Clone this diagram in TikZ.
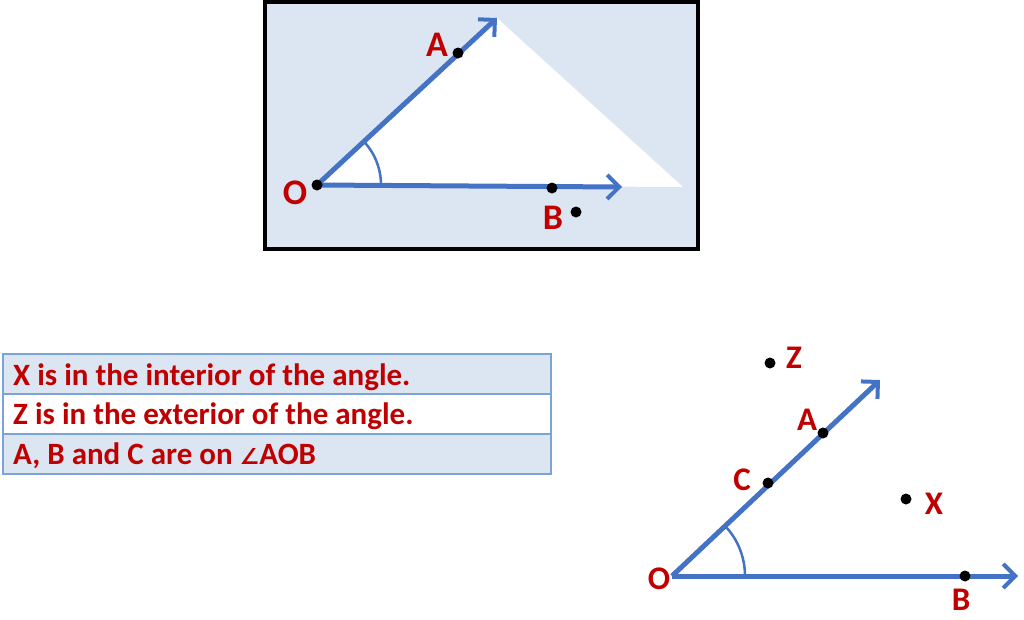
\documentclass[tikz,border=0pt]{standalone}
\usepackage{fontspec}
\setmainfont{Carlito}
\newfontfamily\symfont{DejaVu Sans}
\usetikzlibrary{arrows.meta}
\definecolor{boxblue}{HTML}{DCE6F2}
\definecolor{rayblue}{HTML}{4472C4}
\definecolor{txtred}{HTML}{C00000}
\definecolor{tabline}{HTML}{7BA3D6}
\tikzset{
  ray/.style={draw=rayblue, line width=5pt, -{Straight Barb[length=12pt,width=24pt,line width=4pt]}},
  arcl/.style={draw=rayblue, line width=2.5pt},
  dot/.style={circle, fill=black, inner sep=0pt, minimum size=11pt},
  lbl/.style={text=txtred, font=\bfseries\fontsize{36}{40}\selectfont, inner sep=0pt},
  lbls/.style={text=txtred, font=\bfseries\fontsize{33}{37}\selectfont, inner sep=0pt},
  rowtxt/.style={text=txtred, font=\bfseries\fontsize{31}{35}\selectfont, anchor=west, inner sep=0pt},
  row/.style={draw=tabline, line width=2.5pt}
}
\begin{document}
\begin{tikzpicture}[x=1pt,y=-1pt]
\useasboundingbox (0,0) rectangle (1024,619);
% ---------- top box ----------
\draw[line width=4pt, fill=boxblue] (265,2) rectangle (698,249);
\coordinate (O1) at (317,185);
\coordinate (T1) at (497,18);
\coordinate (R1) at (683,187);
\coordinate (E1) at (622,187);
\fill[white] (O1) -- (T1) -- (R1) -- cycle;
\draw[ray] (O1) -- (T1);
\draw[ray] (O1) -- (E1);
\draw[arcl] (O1) ++(0:64) arc[start angle=0, end angle=-43, radius=64];
\node[dot] (o1) at (O1) {};
\node[dot] (a1) at (458,53) {};
\node[dot] (b1) at (552,188) {};
\node[dot] (p1) at (576,212) {};
\node[lbl] (lo1) at (295,193) {O};
\node[lbl] (la1) at (437,45) {A};
\node[lbl] (lb1) at (553,218) {B};
% ---------- table ----------
\draw[row, fill=boxblue] (3,354) rectangle (551,394);
\draw[row, fill=white] (3,394) rectangle (551,434);
\draw[row, fill=boxblue] (3,434) rectangle (551,474);
\node[rowtxt] (r1) at (13,377) {X is in the interior of the angle.};
\node[rowtxt] (r2) at (13,416) {Z is in the exterior of the angle.};
\node[rowtxt] (r3) at (13,456) {A, B and C are on {\symfont\fontsize{22}{26}\selectfont ∠}AOB};
% ---------- bottom right ----------
\coordinate (O2) at (672,576);
\coordinate (T2) at (880,380);
\coordinate (E2) at (1018,576);
\draw[ray] (O2) -- (T2);
\draw[ray] (O2) -- (E2);
\draw[arcl] (O2) ++(0:73) arc[start angle=0, end angle=-43.3, radius=73];
\node[dot] (a2) at (823,433) {};
\node[dot] (c2) at (768,483) {};
\node[dot] (b2) at (965,576) {};
\node[dot] (z2) at (770,363) {};
\node[dot] (x2) at (906,499) {};
\node[lbls] (lo2) at (659,579) {O};
\node[lbls] (la2) at (807,420) {A};
\node[lbls] (lc2) at (742,480) {C};
\node[lbls] (lb2) at (961,600) {B};
\node[lbls] (lz2) at (794,358) {Z};
\node[lbls] (lx2) at (934,504) {X};
\end{tikzpicture}
\end{document}
